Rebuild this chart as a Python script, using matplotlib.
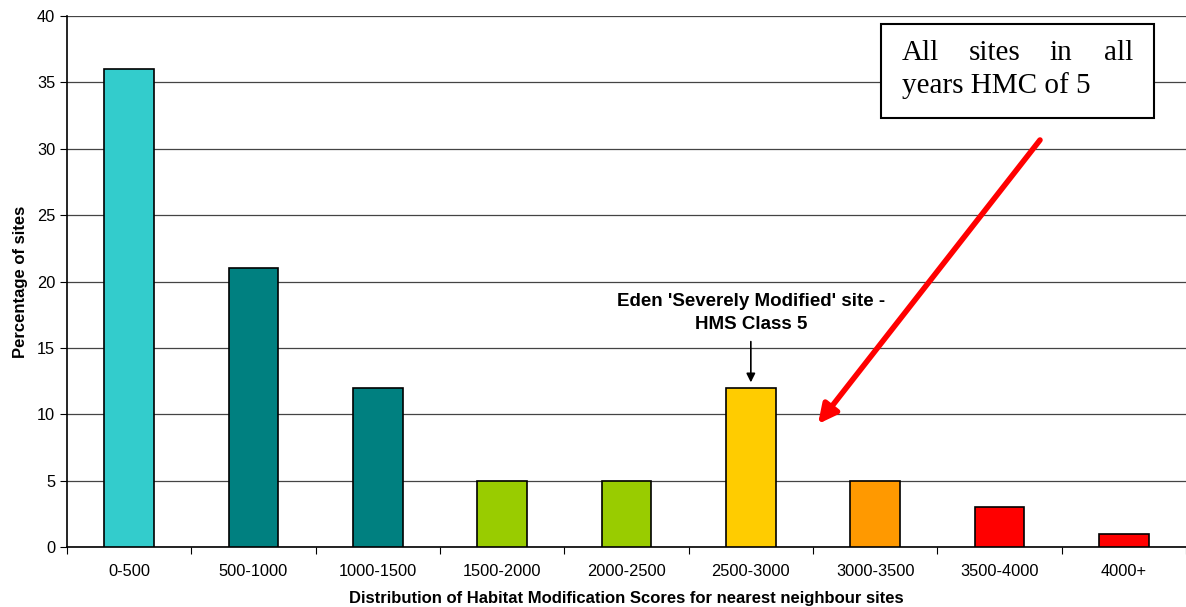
import numpy as np
import matplotlib.pyplot as plt
from matplotlib.patches import Rectangle

categories = ['0-500', '500-1000', '1000-1500', '1500-2000', '2000-2500',
              '2500-3000', '3000-3500', '3500-4000', '4000+']
percentages = [36, 21, 12, 5, 5, 12, 5, 3, 1]
bar_colors = ['#33CCCC', '#008080', '#008080', '#99CC00', '#99CC00',
              '#FFCC00', '#FF9900', '#FF0000', '#FF0000']

plt.rcParams['font.family'] = ['Liberation Sans', 'DejaVu Sans']

W, H = 1186, 607
fig = plt.figure(figsize=(W / 100, H / 100), dpi=100)
ax = fig.add_axes([67 / W, 1 - 547 / H, (1186 - 67) / W, (547 - 16) / H])

x = np.arange(len(categories))
ax.bar(x, percentages, width=0.4, color=bar_colors, edgecolor='black',
       linewidth=1.2, zorder=3)

ax.set_xlim(-0.5, len(categories) - 0.5)
ax.set_ylim(0, 40)
ax.set_yticks(np.arange(0, 41, 5))
ax.yaxis.grid(True, color='#444444', linewidth=0.9, zorder=0)
ax.set_axisbelow(True)

ax.set_xticks(np.arange(-0.5, len(categories), 1.0))
ax.set_xticklabels([])
ax.set_xticks(x, minor=True)
ax.set_xticklabels(categories, minor=True)
ax.tick_params(axis='x', which='minor', length=0, pad=12, labelsize=11.8)
ax.tick_params(axis='x', which='major', length=5, direction='out')
ax.tick_params(axis='y', length=5, direction='out', labelsize=11.8)

for s in ['top', 'right']:
    ax.spines[s].set_visible(False)
ax.spines['left'].set_linewidth(1.2)
ax.spines['bottom'].set_linewidth(1.2)

ax.set_ylabel('Percentage of sites', fontsize=12, fontweight='bold', labelpad=6)
ax.set_xlabel('Distribution of Habitat Modification Scores for nearest neighbour sites',
              fontsize=12, fontweight='bold')
ax.xaxis.set_label_coords(0.5, (547 - 598) / (547 - 16))
ax.xaxis.label.set_va('center')

# black annotation over the 2500-3000 bar
ax.annotate("Eden 'Severely Modified' site -\nHMS Class 5",
            xy=(5, 12.4), xytext=(5, 16.1), ha='center', va='bottom',
            fontsize=13.5, fontweight='bold', linespacing=1.45,
            arrowprops=dict(arrowstyle='-|>', color='black', lw=1.2,
                            mutation_scale=13, shrinkA=4, shrinkB=0))

# red arrow from the text box
ax.annotate('', xy=(818 / W, 1 - 424 / H), xycoords='figure fraction',
            xytext=(1040 / W, 1 - 140 / H), textcoords='figure fraction',
            arrowprops=dict(arrowstyle='-|>', color='red', lw=4,
                            mutation_scale=28, shrinkA=0, shrinkB=0))

# text box
box = Rectangle((881 / W, 1 - 118 / H), (1154 - 881) / W, (118 - 24) / H,
                transform=fig.transFigure, facecolor='white', edgecolor='black',
                linewidth=1.5, zorder=5)
fig.patches.append(box)
serif = ['Liberation Serif', 'DejaVu Serif']
line1 = ['All', 'sites', 'in', 'all']
line1_x = [902, 995, 1061, 1133]
line1_ha = ['left', 'center', 'center', 'right']
for word, px, ha in zip(line1, line1_x, line1_ha):
    fig.text(px / W, 1 - 53 / H, word, family=serif, fontsize=21,
             ha=ha, va='center', zorder=6)
fig.text(902 / W, 1 - 86 / H, 'years HMC of 5', family=serif, fontsize=21,
         ha='left', va='center', zorder=6)

fig.savefig('out.png', dpi=100)
